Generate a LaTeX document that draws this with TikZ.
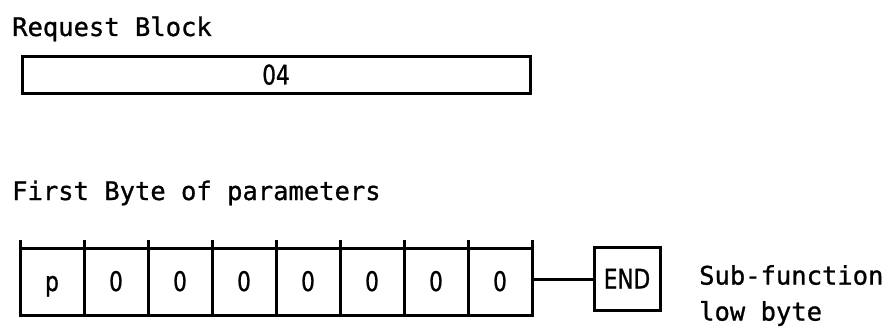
\documentclass[tikz,border=0pt]{standalone}
\usepackage{fontspec}
\newfontfamily\plotfont{DejaVu Sans Mono}[FakeBold=1]
\newfontfamily\cellfont{DejaVu Sans}[FakeStretch=0.8,FakeBold=1]
\begin{document}
\begin{tikzpicture}[x=1pt,y=-1pt,
  label text/.style={font=\plotfont\fontsize{25.5}{36}\selectfont, anchor=base west, inner sep=0pt},
  box text/.style={font=\cellfont\fontsize{27}{34}\selectfont, text height=19pt, text depth=0pt},
  frame/.style={draw, line width=3pt, inner sep=0pt, outer sep=0pt},
  bitcell/.style={frame, minimum width=64pt, minimum height=67pt, box text},
  link/.style={line width=3pt}]
\useasboundingbox (0,0) rectangle (894,329);

% request block
\node[label text] (rbtitle) at (12,36) {Request Block};
\node[frame, minimum width=508pt, minimum height=36pt, box text] (rb) at (276,75) {04};

% first byte of parameters
\node[label text] (fbtitle) at (12,200) {First Byte of parameters};
\node[bitcell] (c1) at (52,281.5) {p};
\foreach \i/\t [remember=\i as \prev (initially 1)] in {2/0,3/0,4/0,5/0,6/0,7/0,8/0} {
  \node[bitcell, anchor=west] (c\i) at (c\prev.east) {\t};
}
% tick marks above the cell boundaries
\foreach \i in {1,...,8} {
  \draw[link] (c\i.north west) -- ++(0,-8);
}
\draw[link] (c8.north east) -- ++(0,-8);

% end marker
\node[frame, minimum width=66pt, minimum height=63pt, box text] (end) at (627,279) {END};
\draw[link] (c8.east |- end.west) -- (end.west);

\node[label text, align=left, anchor=north west] (sub) at (699,265)
  {Sub-function\\low byte};
\end{tikzpicture}
\end{document}
